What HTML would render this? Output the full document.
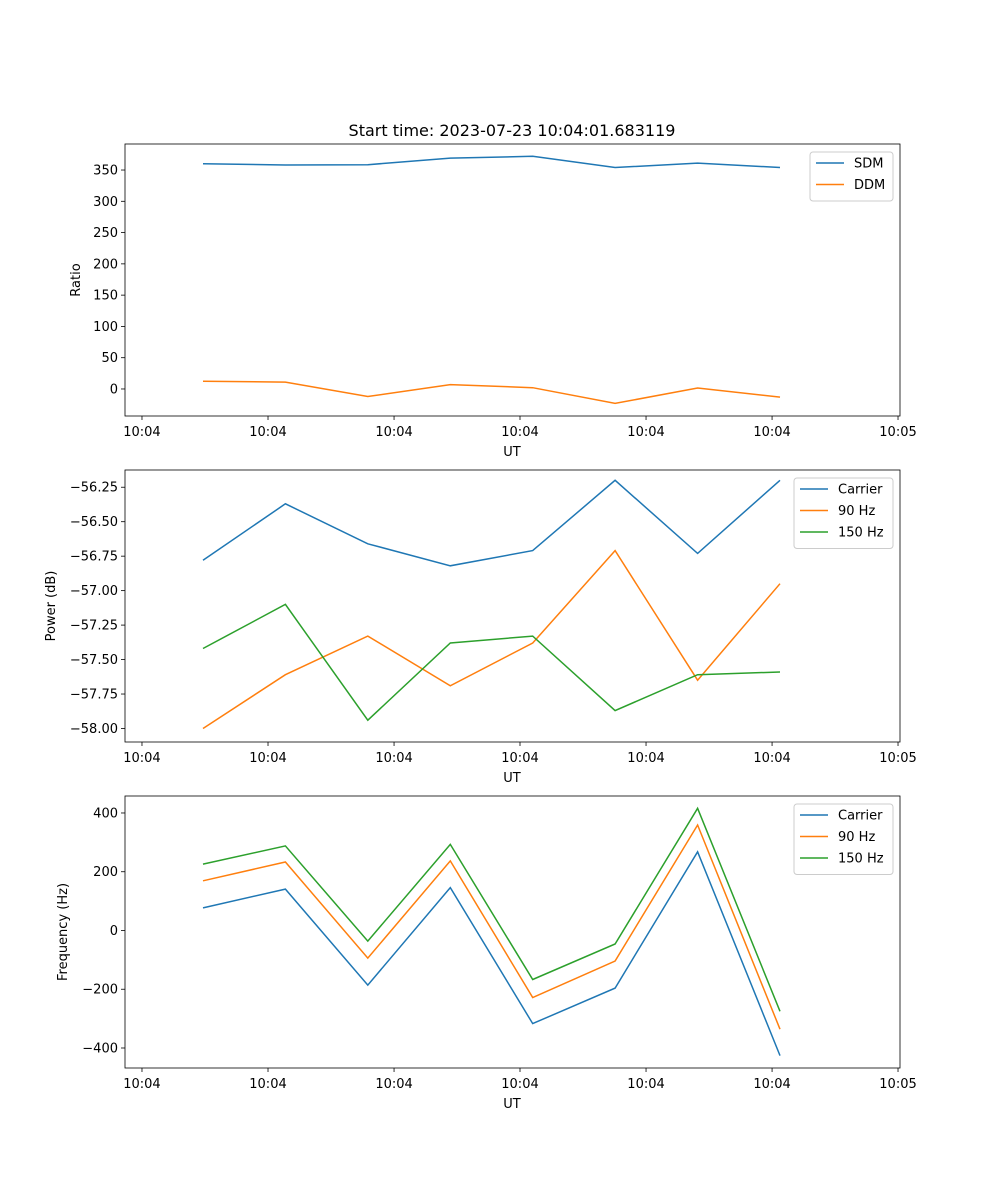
<!DOCTYPE html>
<html><head><meta charset="utf-8"><style>
html,body{margin:0;padding:0;background:#fff}
svg{display:block;font-family:"DejaVu Sans","Liberation Sans",sans-serif}
</style></head><body>
<svg id="fig" width="1000" height="1200" viewBox="0 0 1000 1200" xmlns="http://www.w3.org/2000/svg">
<text x="512" y="136" font-size="16" text-anchor="middle">Start time: 2023-07-23 10:04:01.683119</text>
</svg>
<script>
const xTickLabels = ["10:04","10:04","10:04","10:04","10:04","10:04","10:05"];
const sdm = [360,358,358.5,369,372,354,361,354];
const ddm = [12.5,11,-12,7,2,-23,1.5,-13];
const powCarrier = [-56.78,-56.37,-56.66,-56.82,-56.71,-56.20,-56.73,-56.20];
const pow90 = [-58.0,-57.61,-57.33,-57.69,-57.38,-56.71,-57.65,-56.95];
const pow150 = [-57.42,-57.10,-57.94,-57.38,-57.33,-57.87,-57.61,-57.59];
const freqCarrier = [77,141,-186,146,-317,-196,268,-426];
const freq90 = [169,233,-94,237,-228,-104,359,-336];
const freq150 = [226,288,-36,293,-167,-46,416,-275];
const ratioTicks = [0,50,100,150,200,250,300,350];
const powerTicks = [-58.00,-57.75,-57.50,-57.25,-57.00,-56.75,-56.50,-56.25];
const freqTicks = [-400,-200,0,200,400];
const xTickPos = [-0.74,0.789,2.318,3.846,5.375,6.904,8.432];

const NS="http://www.w3.org/2000/svg";
const svg=document.getElementById('fig');
function el(tag,attrs,parent){const e=document.createElementNS(NS,tag);for(const k in attrs)e.setAttribute(k,attrs[k]);(parent||svg).appendChild(e);return e;}
const X0=125,X1=900;
const xmin=-0.946, xmax=8.456;
function xs(i){return X0+(i-xmin)/(xmax-xmin)*(X1-X0);}

function panel(name,top,bottom,ymin,ymax,ticks,fmt,ylabel,series,legend){
  const g=el('g',{});
  
  
  const ys=v=>bottom-(v-ymin)/(ymax-ymin)*(bottom-top);
  ticks.forEach(t=>{
    const y=ys(t);
    const l=el('line',{x1:X0-4,x2:X0,y1:y,y2:y,stroke:'#000','stroke-width':0.8},g);
    
    const tx=el('text',{x:X0-7,y:y+4.5,'font-size':13,'text-anchor':'end'},g);
    tx.textContent=fmt(t);
    
  });
  xTickLabels.forEach((lab,k)=>{
    const x=xs(xTickPos[k]);
    const l=el('line',{x1:x,x2:x,y1:bottom,y2:bottom+4,stroke:'#000','stroke-width':0.8},g);
    
    const tx=el('text',{x:x,y:bottom+20,'font-size':13,'text-anchor':'middle'},g);
    tx.textContent=lab;
    
  });
  const xl=el('text',{x:512,y:bottom+40,'font-size':13,'text-anchor':'middle'},g);
  xl.textContent='UT';
  const yl=el('text',{x:0,y:0,'font-size':13,'text-anchor':'middle',transform:`translate(${ylabel.x},${(top+bottom)/2}) rotate(-90)`},g);
  yl.textContent=ylabel.t;
  series.forEach(s=>{
    const pts=s.v.map((v,i)=>xs(i).toFixed(1)+','+ys(v).toFixed(1)).join(' ');
    const p=el('polyline',{points:pts,fill:'none',stroke:s.c,'stroke-width':1.5},g);
    
    
  });
  const fr=el('rect',{x:X0,y:top,width:X1-X0,height:bottom-top,fill:'none',stroke:'#000','stroke-width':0.8},g);
  
  const lg=el('g',{},g);
  
  el('rect',{x:legend.x,y:top+8,width:legend.w,height:series.length*21.5+6,rx:3,fill:'#fff',stroke:'#ccc','stroke-width':1},lg);
  series.forEach((s,k)=>{
    const y=top+19+k*21.5;
    const e=el('g',{},lg);
    
    el('line',{x1:legend.x+6,x2:legend.x+34,y1:y,y2:y,stroke:s.c,'stroke-width':1.5},e);
    const t=el('text',{x:legend.x+44,y:y+4.5,'font-size':13},e);t.textContent=s.n;
  });
}
const C1='#1f77b4',C2='#ff7f0e',C3='#2ca02c';
panel('ratio-panel',144,416,-43.2,391.6,ratioTicks,t=>String(t),{x:80,t:'Ratio'},
  [{n:'SDM',v:sdm,c:C1},{n:'DDM',v:ddm,c:C2}],{x:810,w:83});
panel('power-panel',470,742,-58.098,-56.125,powerTicks,t=>t.toFixed(2).replace('-','\u2212'),{x:55,t:'Power (dB)'},
  [{n:'Carrier',v:powCarrier,c:C1},{n:'90 Hz',v:pow90,c:C2},{n:'150 Hz',v:pow150,c:C3}],{x:794,w:99});
panel('frequency-panel',796,1068,-468.1,457.8,freqTicks,t=>String(t).replace('-','\u2212'),{x:67,t:'Frequency (Hz)'},
  [{n:'Carrier',v:freqCarrier,c:C1},{n:'90 Hz',v:freq90,c:C2},{n:'150 Hz',v:freq150,c:C3}],{x:794,w:99});
</script>
</body></html>
